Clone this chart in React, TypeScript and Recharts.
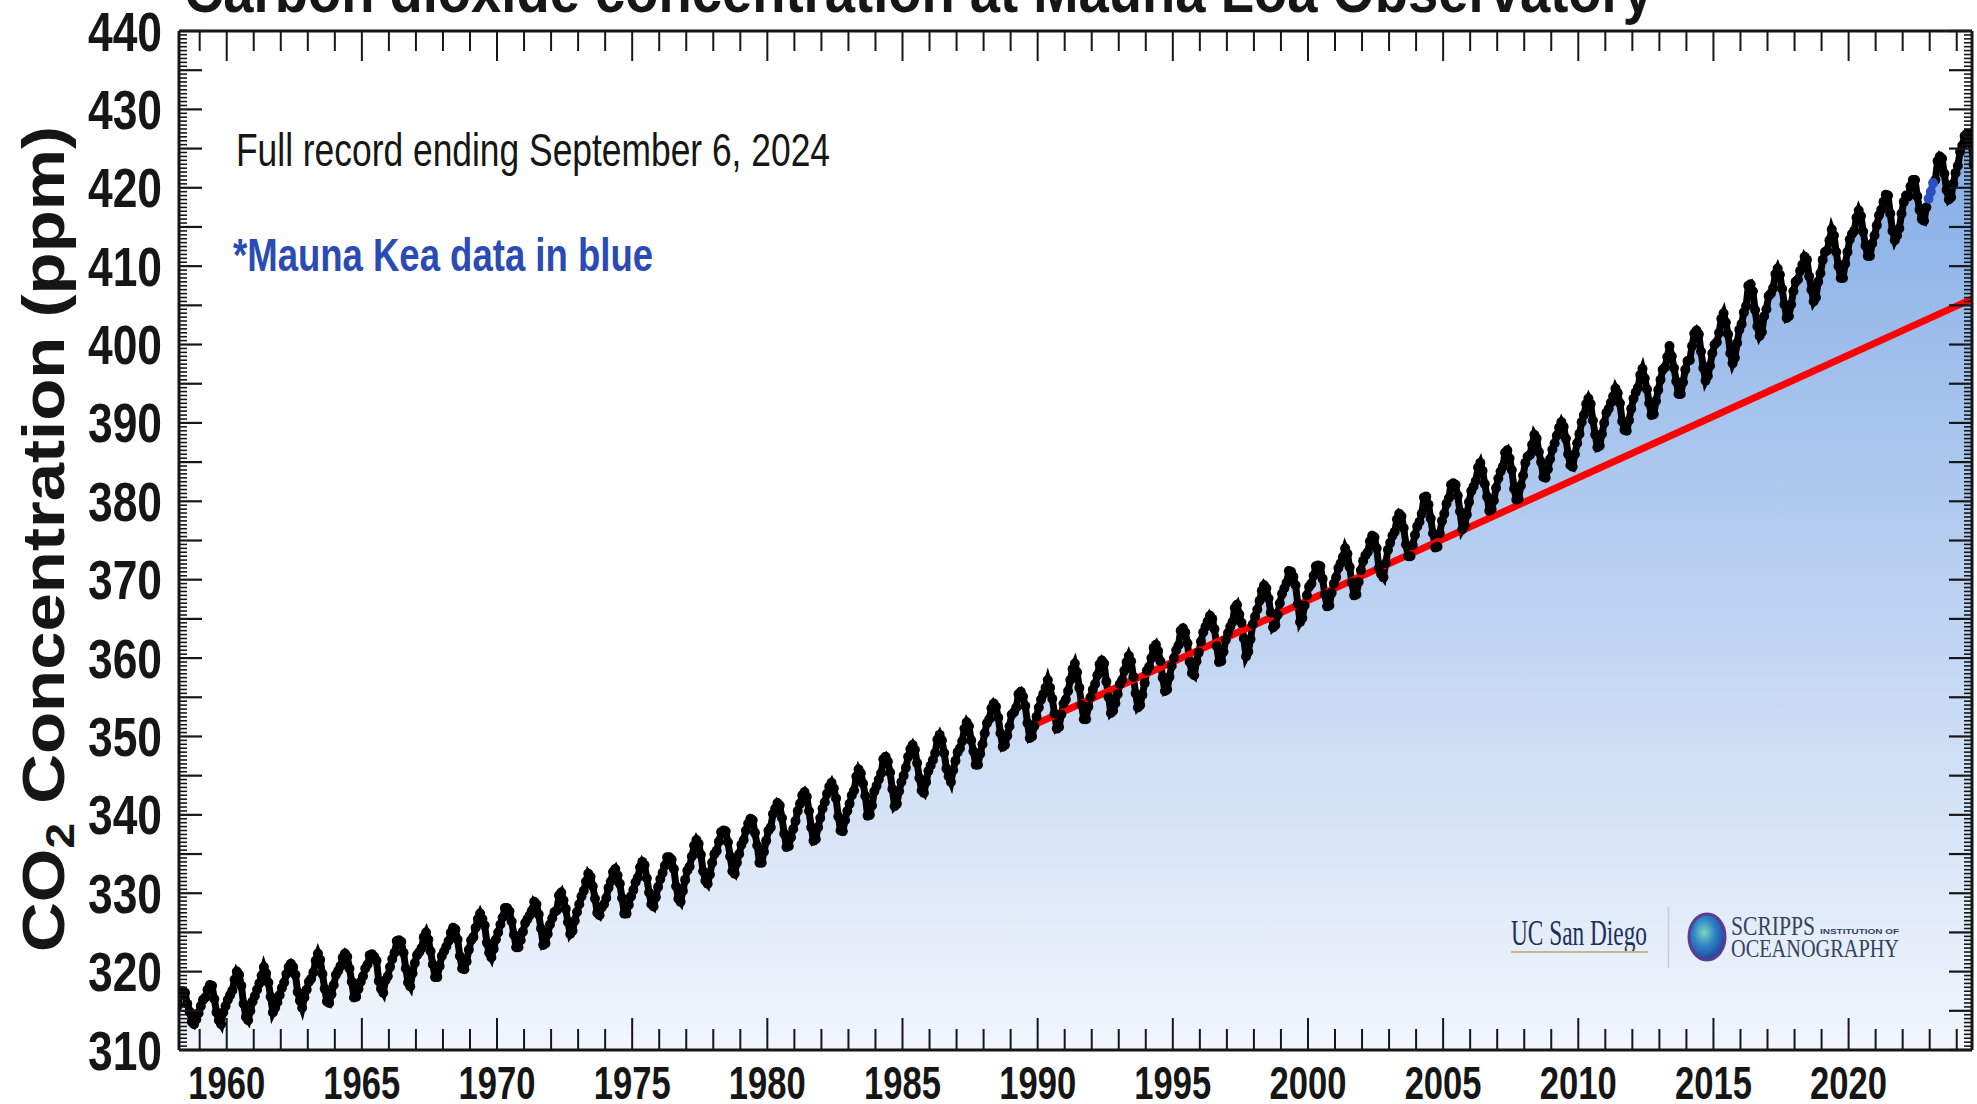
import React from 'react';
import { ComposedChart, Area, Line, XAxis, YAxis } from 'recharts';

// Monthly means (ppm), one row per year, Jan..Dec. null = no value.
const co2_1950s = [
  [null, null, 315.7, 317.5, 317.5, 317.3, 315.9, 314.9, 313.6, 313.3, 313.9, 314.7],
  [315.6, 316.4, 316.7, 317.7, 318.3, 318.2, 316.5, 314.8, 313.8, 313.3, 314.8, 315.6],
];
const co2_1960s = [
  [316.4, 317.0, 317.6, 319.0, 320.0, 319.6, 318.2, 315.9, 314.2, 313.8, 315.0, 316.2],
  [316.9, 317.7, 318.5, 319.5, 320.6, 319.8, 318.6, 316.8, 314.8, 315.4, 316.1, 317.0],
  [317.9, 318.6, 319.7, 320.6, 321.0, 320.6, 319.6, 317.4, 316.3, 315.4, 316.7, 317.7],
  [318.7, 319.1, 319.9, 321.4, 322.3, 321.5, 319.7, 317.8, 316.2, 316.0, 317.1, 318.3],
  [319.6, 320.1, 320.7, 321.8, 322.3, 321.9, 320.4, 318.7, 316.7, 316.8, 317.8, 318.7],
  [319.4, 320.4, 320.9, 322.1, 322.2, 321.9, 321.4, 318.8, 317.8, 317.3, 318.9, 319.4],
  [320.6, 321.6, 322.4, 323.9, 324.0, 323.8, 322.4, 320.4, 318.6, 318.1, 319.8, 321.1],
  [322.1, 322.5, 323.0, 324.4, 325.0, 324.1, 322.6, 320.9, 319.3, 319.3, 320.7, 322.0],
  [322.6, 323.2, 323.9, 325.0, 325.6, 325.4, 324.1, 322.0, 320.4, 320.3, 321.3, 322.8],
  [324.0, 324.4, 325.6, 326.7, 327.4, 326.7, 325.9, 323.7, 322.4, 321.8, 322.9, 324.1],
];
const co2_1970s = [
  [325.0, 326.0, 326.9, 328.1, 328.1, 327.7, 326.4, 324.7, 323.1, 323.1, 324.0, 325.1],
  [326.2, 326.7, 327.2, 327.8, 328.9, 328.6, 327.3, 325.5, 323.4, 323.6, 324.8, 326.0],
  [326.8, 327.6, 327.8, 329.7, 330.1, 329.1, 328.0, 326.3, 324.8, 325.2, 326.5, 327.6],
  [328.6, 329.6, 330.3, 331.5, 332.5, 332.1, 330.9, 329.3, 327.5, 327.2, 328.2, 328.6],
  [329.4, 330.7, 331.5, 332.7, 333.1, 332.3, 331.2, 329.4, 327.4, 327.4, 328.5, 329.6],
  [330.4, 331.4, 332.0, 333.3, 334.0, 333.6, 331.9, 330.1, 328.6, 328.3, 329.5, 330.8],
  [331.8, 332.6, 333.5, 334.6, 334.6, 334.3, 333.1, 330.9, 329.3, 328.9, 330.3, 331.7],
  [332.9, 333.4, 334.7, 336.1, 336.8, 336.3, 334.9, 332.8, 331.6, 331.2, 332.4, 333.9],
  [335.0, 335.4, 336.6, 337.8, 338.0, 337.9, 336.5, 334.7, 332.8, 332.5, 333.9, 335.0],
  [336.2, 336.8, 338.0, 338.9, 339.5, 339.3, 337.7, 336.1, 333.9, 333.9, 335.3, 336.7],
];
const co2_1980s = [
  [338.0, 338.4, 340.1, 340.8, 341.5, 341.2, 339.6, 337.6, 335.9, 336.0, 337.1, 338.2],
  [339.2, 340.5, 341.4, 342.5, 342.9, 342.3, 340.5, 338.4, 336.7, 336.9, 338.4, 339.6],
  [340.8, 341.6, 342.7, 343.6, 344.1, 343.4, 342.1, 339.8, 338.0, 337.9, 339.3, 340.5],
  [341.4, 342.5, 343.1, 344.9, 345.8, 345.3, 344.0, 342.4, 339.9, 340.0, 341.2, 343.0],
  [343.7, 344.5, 345.3, 347.1, 347.4, 346.8, 345.4, 343.3, 341.1, 341.4, 343.0, 344.2],
  [345.0, 346.0, 347.4, 348.4, 348.9, 348.3, 346.6, 344.7, 343.1, 342.8, 344.2, 345.6],
  [346.3, 347.0, 347.9, 349.6, 350.2, 349.5, 347.9, 345.9, 344.9, 344.2, 345.7, 346.9],
  [348.0, 348.5, 349.4, 351.0, 351.8, 351.3, 349.5, 348.1, 346.4, 346.4, 347.8, 349.0],
  [350.4, 351.7, 352.2, 353.6, 354.2, 353.8, 352.4, 350.4, 348.7, 348.9, 350.1, 351.3],
  [352.8, 353.1, 353.7, 355.4, 355.7, 355.1, 353.9, 351.7, 349.8, 350.0, 351.3, 352.5],
];
const co2_1990s = [
  [353.7, 354.7, 355.4, 356.2, 357.2, 356.2, 354.8, 352.9, 351.0, 351.2, 352.8, 354.2],
  [354.7, 355.8, 357.2, 358.6, 359.3, 358.2, 356.2, 354.0, 352.2, 352.2, 353.8, 355.0],
  [356.0, 356.7, 357.8, 359.2, 359.7, 359.3, 357.0, 355.0, 353.0, 353.3, 354.2, 355.4],
  [356.7, 357.2, 358.4, 359.5, 360.3, 359.6, 357.6, 355.5, 353.7, 354.0, 355.3, 356.8],
  [358.4, 358.9, 360.0, 361.3, 361.7, 360.9, 359.6, 357.5, 355.8, 356.0, 357.6, 359.0],
  [360.0, 361.0, 361.6, 363.5, 363.8, 363.3, 361.9, 359.5, 358.1, 357.8, 359.6, 360.7],
  [362.1, 363.3, 364.0, 364.7, 365.4, 365.0, 363.7, 361.5, 359.5, 359.6, 360.8, 362.3],
  [363.2, 364.0, 364.6, 366.4, 366.8, 365.6, 364.5, 362.5, 360.2, 360.8, 362.4, 364.3],
  [365.3, 366.2, 367.3, 368.6, 369.3, 368.9, 367.6, 365.8, 363.9, 364.2, 365.5, 367.0],
  [368.2, 368.9, 369.6, 371.1, 371.0, 370.4, 369.3, 366.9, 364.6, 365.1, 366.7, 368.0],
];
const co2_2000s = [
  [369.1, 369.5, 370.5, 371.7, 371.8, 371.7, 370.1, 368.1, 366.6, 366.7, 368.3, 369.5],
  [370.3, 371.5, 372.1, 372.9, 374.0, 373.3, 371.6, 369.6, 368.0, 368.1, 369.7, 371.2],
  [372.4, 373.1, 373.5, 374.9, 375.6, 375.4, 374.0, 371.5, 370.7, 370.3, 372.1, 373.8],
  [374.7, 375.6, 376.1, 377.7, 378.4, 378.1, 376.6, 374.5, 373.0, 373.0, 374.4, 375.7],
  [376.8, 377.4, 378.4, 380.5, 380.6, 379.6, 377.8, 375.9, 374.1, 374.2, 375.9, 377.5],
  [378.4, 379.7, 380.4, 382.1, 382.3, 382.1, 380.7, 378.7, 376.4, 376.9, 378.3, 379.9],
  [381.3, 381.9, 382.6, 384.3, 384.9, 383.9, 382.2, 380.6, 378.8, 379.0, 380.1, 381.7],
  [382.9, 383.8, 384.4, 386.2, 386.5, 385.5, 384.0, 381.6, 380.2, 380.3, 382.0, 383.3],
  [384.9, 385.7, 385.9, 387.2, 388.5, 388.0, 386.3, 385.0, 383.1, 383.0, 384.1, 385.4],
  [386.6, 387.4, 388.4, 389.4, 390.1, 389.5, 388.0, 386.0, 384.6, 384.4, 386.0, 387.4],
];
const co2_2010s = [
  [388.6, 390.1, 391.0, 392.4, 393.1, 392.4, 390.3, 388.5, 386.9, 387.1, 388.6, 390.0],
  [391.3, 391.8, 392.6, 393.4, 394.4, 393.8, 392.5, 390.2, 389.1, 389.0, 390.3, 391.8],
  [393.1, 393.9, 394.5, 396.1, 396.9, 395.7, 394.3, 392.5, 391.0, 391.1, 392.8, 394.2],
  [395.5, 396.8, 397.1, 398.4, 399.8, 398.5, 397.0, 395.3, 393.7, 393.7, 395.2, 396.8],
  [397.9, 398.0, 399.8, 401.4, 401.8, 401.3, 399.1, 397.0, 395.4, 396.0, 397.3, 398.9],
  [400.0, 400.3, 401.5, 403.3, 404.0, 402.8, 401.3, 398.9, 397.6, 398.3, 400.2, 401.9],
  [402.6, 404.1, 404.9, 407.5, 407.7, 406.8, 404.4, 402.3, 401.1, 401.6, 403.6, 404.5],
  [406.2, 406.5, 407.2, 409.0, 409.7, 408.9, 407.1, 405.1, 403.4, 403.6, 405.1, 406.8],
  [408.0, 408.3, 409.4, 410.2, 411.2, 410.8, 408.7, 407.0, 405.5, 406.0, 408.0, 409.1],
  [410.8, 411.8, 412.0, 413.3, 414.7, 413.9, 411.8, 410.0, 408.5, 408.5, 410.3, 411.8],
];
const co2_2020s = [
  [413.4, 414.1, 414.5, 416.2, 417.1, 416.4, 414.4, 412.6, 411.3, 411.3, 412.9, 413.9],
  [415.2, 416.5, 417.2, 418.2, 419.1, 419.0, 416.7, 414.5, 413.3, 413.9, 414.8, 416.7],
  [418.2, 419.0, 418.9, 420.2, 421.0, 421.0, 418.9, 417.2, 416.0, 415.8, 417.5, null],
  [null, null, 421.0, 423.4, 424.0, 423.7, 421.8, 419.7, 418.5, 418.8, 420.5, 421.9],
  [422.8, 424.6, 425.4, 426.6, 426.9, 426.9, 425.6, 423.0, null, null, null, null],
];
const DECADE_START = [1958, 1960, 1970, 1980, 1990, 2000, 2010, 2020];
const DECADE_ROWS = [co2_1950s, co2_1960s, co2_1970s, co2_1980s, co2_1990s, co2_2000s, co2_2010s, co2_2020s];

// Mauna Kea substitute months (year, month) and values
const MAUNA_KEA_MONTHS = [[2022, 12], [2023, 1], [2023, 2]];
const MAUNA_KEA_VALUES = [418.6, 419.5, 420.6];

// red reference line end points
const TREND_MONTHS = [[1989, 11], [2024, 8]];
const TREND_VALUES = [351.5, 405.9];

const X_LABELS = [1960, 1965, 1970, 1975, 1980, 1985, 1990, 1995, 2000, 2005, 2010, 2015, 2020];
const Y_LABELS = [310, 320, 330, 340, 350, 360, 370, 380, 390, 400, 410, 420, 430, 440];

const X_MIN = 1958.235;
const X_MAX = 2024.565;
const Y_MIN = 310;
const Y_MAX = 440;

const W = 1977;
const H = 1104;
const PLOT_LEFT = 179;
const PLOT_RIGHT = 1972;
const PLOT_TOP = 31;
const PLOT_BOTTOM = 1050;
const AX = 1; // axis band size (must be > 0 for the axis to draw)
const INK = '#161616';
const FONT = '"Liberation Sans", Arial, Helvetica, sans-serif';

type Row = { t: number; co2: number | null; mk: number | null; fill: number | null; trend: number | null };

const rows: Row[] = [];
DECADE_ROWS.forEach((block, b) => {
  block.forEach((months, i) => {
    const year = DECADE_START[b] + i;
    months.forEach((v, m) => {
      const k = MAUNA_KEA_MONTHS.findIndex(([y, mm]) => y === year && mm === m + 1);
      const mk = k >= 0 ? MAUNA_KEA_VALUES[k] : null;
      if (v == null && mk == null) return;
      const ti = TREND_MONTHS.findIndex(([y, mm]) => y === year && mm === m + 1);
      rows.push({
        t: year + (m + 0.5) / 12,
        co2: v,
        mk,
        fill: v ?? mk,
        trend: ti >= 0 ? TREND_VALUES[ti] : null,
      });
    });
  });
});

// minor ticks: every year, every half ppm
const yearTicks: number[] = [];
for (let y = 1959; y <= 2024; y++) yearTicks.push(y);
const ppmTicks: number[] = [];
for (let i = 0; i <= (Y_MAX - Y_MIN) * 2; i++) ppmTicks.push(Y_MIN + i / 2);

const BottomTick = (props: any) => {
  const x = props.payload?.coordinate ?? props.x;
  const v = props.payload.value;
  const major = v % 5 === 0;
  return (
    <g>
      <line x1={x} x2={x} y1={PLOT_BOTTOM} y2={PLOT_BOTTOM - (major ? 32 : 21)} stroke={INK} strokeWidth={2} />
      {X_LABELS.includes(v) && (
        <text x={x} y={1099} textAnchor="middle" fontFamily={FONT} fontWeight="bold" fontSize={46}
          textLength={77} lengthAdjust="spacingAndGlyphs" fill={INK}>
          {v}
        </text>
      )}
    </g>
  );
};

const TopTick = (props: any) => {
  const x = props.payload?.coordinate ?? props.x;
  const major = props.payload.value % 5 === 0;
  return <line x1={x} x2={x} y1={PLOT_TOP} y2={PLOT_TOP + (major ? 30 : 20)} stroke={INK} strokeWidth={2} />;
};

const LeftTick = (props: any) => {
  const y = props.payload?.coordinate ?? props.y;
  const v = props.payload.value;
  const major = v % 5 === 0;
  return (
    <g>
      <line x1={PLOT_LEFT} x2={PLOT_LEFT + (major ? 23 : 8)} y1={y} y2={y} stroke={INK} strokeWidth={major ? 2.2 : 1.6} />
      {Y_LABELS.includes(v) && (
        <text x={162} y={y + 19.5} textAnchor="end" fontFamily={FONT} fontWeight="bold" fontSize={55}
          textLength={74} lengthAdjust="spacingAndGlyphs" fill={INK}>
          {v}
        </text>
      )}
    </g>
  );
};

const RightTick = (props: any) => {
  const y = props.payload?.coordinate ?? props.y;
  const major = props.payload.value % 5 === 0;
  return <line x1={PLOT_RIGHT} x2={PLOT_RIGHT - (major ? 23 : 8)} y1={y} y2={y} stroke={INK} strokeWidth={major ? 2.2 : 1.6} />;
};

const axisLine = { stroke: INK, strokeWidth: 3 };

export default function App() {
  return (
    <div style={{ position: 'absolute', left: 0, top: 0, width: W, height: H, background: '#fff', overflow: 'hidden' }}>
      <svg width={0} height={0} style={{ position: 'absolute' }}>
        <defs>
          <linearGradient id="co2Fill" x1="0" y1="0" x2="0" y2="1">
            <stop offset="0%" stopColor="#84ade6" />
            <stop offset="100%" stopColor="#f2f6fc" />
          </linearGradient>
        </defs>
      </svg>
      <ComposedChart width={W} height={H} data={rows}
        margin={{ top: PLOT_TOP - AX, right: W - PLOT_RIGHT - AX, bottom: H - PLOT_BOTTOM - AX, left: PLOT_LEFT - AX }}>
        <XAxis xAxisId="b" dataKey="t" type="number" domain={[X_MIN, X_MAX]} allowDataOverflow
          ticks={yearTicks} interval={0} height={AX} tickLine={false} axisLine={axisLine} tick={BottomTick} />
        <XAxis xAxisId="t" orientation="top" dataKey="t" type="number" domain={[X_MIN, X_MAX]} allowDataOverflow
          ticks={yearTicks} interval={0} height={AX} tickLine={false} axisLine={axisLine} tick={TopTick} />
        <YAxis yAxisId="l" type="number" domain={[Y_MIN, Y_MAX]} allowDataOverflow
          ticks={ppmTicks} interval={0} width={AX} tickLine={false} axisLine={axisLine} tick={LeftTick} />
        <YAxis yAxisId="r" orientation="right" type="number" domain={[Y_MIN, Y_MAX]} allowDataOverflow
          ticks={ppmTicks} interval={0} width={AX} tickLine={false} axisLine={axisLine} tick={RightTick} />
        <Area xAxisId="b" yAxisId="l" type="linear" dataKey="fill" baseValue={Y_MIN} stroke="none"
          fill="url(#co2Fill)" fillOpacity={1} connectNulls isAnimationActive={false} />
        <Line xAxisId="b" yAxisId="l" type="linear" dataKey="co2" stroke="#000" strokeWidth={7}
          dot={{ r: 5, fill: '#000', stroke: 'none' }} activeDot={false} isAnimationActive={false} />
        <Line xAxisId="b" yAxisId="l" type="linear" dataKey="mk" stroke="#2b50c0" strokeWidth={7}
          dot={{ r: 5, fill: '#2b50c0', stroke: 'none' }} activeDot={false} isAnimationActive={false} />
        <Line xAxisId="b" yAxisId="l" type="linear" dataKey="trend" stroke="#ff0000" strokeWidth={7}
          dot={false} activeDot={false} connectNulls isAnimationActive={false} />
      </ComposedChart>

      <svg width={W} height={H} style={{ position: 'absolute', left: 0, top: 0, pointerEvents: 'none' }}>
        <defs>
          <radialGradient id="globe" cx="42%" cy="40%" r="65%">
            <stop offset="0%" stopColor="#7ad6b8" />
            <stop offset="45%" stopColor="#2f86c6" />
            <stop offset="100%" stopColor="#1f3d93" />
          </radialGradient>
        </defs>
        <text x={184} y={12} fontFamily={FONT} fontWeight="bold" fontSize={62} fill={INK}
          textLength={1469} lengthAdjust="spacingAndGlyphs">
          Carbon dioxide concentration at Mauna Loa Observatory
        </text>
        <text transform="translate(64,539) rotate(-90)" textAnchor="middle" fontFamily={FONT} fontWeight="bold"
          fontSize={60} fill={INK} textLength={826} lengthAdjust="spacingAndGlyphs">
          CO<tspan fontSize={40} dy={10}>2</tspan><tspan dy={-10}> Concentration (ppm)</tspan>
        </text>
        <text x={236} y={166} fontFamily={FONT} fontSize={46} fill={INK} textLength={594} lengthAdjust="spacingAndGlyphs">
          Full record ending September 6, 2024
        </text>
        <text x={233} y={271} fontFamily={FONT} fontWeight="bold" fontSize={47} fill="#2a4bb6"
          textLength={420} lengthAdjust="spacingAndGlyphs">
          *Mauna Kea data in blue
        </text>

        {/* logos */}
        <text x={1511} y={945} fontFamily='"Liberation Serif", "Times New Roman", serif' fontSize={35} fill="#1d2f5a"
          textLength={136} lengthAdjust="spacingAndGlyphs">
          UC San Diego
        </text>
        <line x1={1511} x2={1648} y1={952} y2={952} stroke="#c6b68a" strokeWidth={2} />
        <line x1={1668.5} x2={1668.5} y1={907} y2={968} stroke="#c8ccd4" strokeWidth={1.5} />
        <ellipse cx={1707} cy={937} rx={18} ry={23} fill="url(#globe)" stroke="#5a3d92" strokeWidth={3} />
        <text x={1731} y={935} fontFamily='"Liberation Serif", "Times New Roman", serif' fontSize={27} fill="#36425e"
          textLength={84} lengthAdjust="spacingAndGlyphs">
          SCRIPPS
        </text>
        <text x={1820} y={934} fontFamily={FONT} fontWeight="bold" fontSize={8} fill="#36425e"
          textLength={79} lengthAdjust="spacingAndGlyphs">
          INSTITUTION OF
        </text>
        <text x={1731} y={957} fontFamily='"Liberation Serif", "Times New Roman", serif' fontSize={26} fill="#36425e"
          textLength={168} lengthAdjust="spacingAndGlyphs">
          OCEANOGRAPHY
        </text>
      </svg>
    </div>
  );
}
